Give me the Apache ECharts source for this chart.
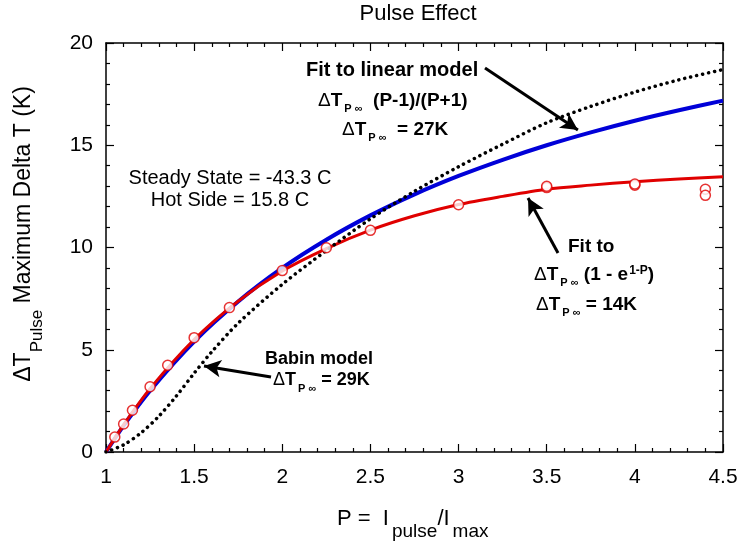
<!DOCTYPE html>
<html>
<head>
<meta charset="utf-8">
<script src="https://cdn.jsdelivr.net/npm/echarts@6/dist/echarts.min.js"></script>
<style>
  html, body { margin: 0; padding: 0; background: #fff; }
  #main { width: 742px; height: 542px; }
</style>
</head>
<body>
<div id="main"></div>
<script>
// measured points (red circles)
var measP = [1.05, 1.1, 1.15, 1.25, 1.35, 1.5, 1.7, 2.0, 2.25, 2.5, 3.0, 3.5, 3.5, 4.0, 4.0, 4.4, 4.4];
var measT = [0.73, 1.37, 2.04, 3.19, 4.24, 5.59, 7.06, 8.87, 9.99, 10.84, 12.09, 12.93, 12.99, 13.05, 13.1, 12.85, 12.55];

// fitted curves
var fitP = [1, 1.1, 1.25, 1.5, 1.75, 2, 2.25, 2.5, 2.75, 3, 3.25, 3.5, 3.75, 4, 4.25, 4.5];
var linearT = [0, 1.29, 3.0, 5.4, 7.36, 9.0, 10.38, 11.57, 12.6, 13.5, 14.29, 15.0, 15.63, 16.2, 16.71, 17.18];
var expT = [0, 1.33, 3.1, 5.5, 7.38, 8.85, 9.95, 10.85, 11.55, 12.1, 12.5, 12.85, 13.05, 13.22, 13.35, 13.46];

var babinP = [1, 1.1, 1.2, 1.3, 1.4, 1.5, 1.6, 1.75, 2, 2.25, 2.5, 2.75, 3, 3.25, 3.5, 3.75, 4, 4.25, 4.5];
var babinT = [0, 0.35, 0.95, 1.75, 2.75, 3.85, 4.9, 6.3, 8.2, 9.85, 11.4, 12.75, 13.95, 15.05, 16.1, 16.9, 17.6, 18.2, 18.7];

// annotation arrows [from, to] in data units
var arrows = [
  [[3.15, 18.78], [3.677, 15.75]],
  [[3.564, 9.73], [3.394, 12.42]],
  [[1.936, 3.67], [1.556, 4.21]]
];

function pairs(xs, ys) {
  return xs.map(function (x, i) { return [x, ys[i]]; });
}

var font = 'Liberation Sans, Arial, sans-serif';

function makeRich(size) {
  return {
    d: { fontSize: size, fontFamily: font, color: '#000', verticalAlign: 'top' },
    b: { fontSize: size, fontWeight: 'bold', fontFamily: font, color: '#000', verticalAlign: 'top' },
    s: { fontSize: 11, fontWeight: 'bold', fontFamily: font, color: '#000', verticalAlign: 'top', padding: [12, 0, 0, 2] },
    p: { fontSize: 12, fontWeight: 'bold', fontFamily: font, color: '#000', verticalAlign: 'top', padding: [0, 0, 0, 1] }
  };
}
var rich20 = makeRich(20);
var rich19 = makeRich(19);
var rich18 = makeRich(18);

function label(x, y, text, r) {
  return {
    type: 'text', left: x, top: y,
    style: { text: text, rich: r || rich19, fontFamily: font }
  };
}

var chart = echarts.init(document.getElementById('main'), null, { renderer: 'canvas' });

var axisBase = {
  type: 'value',
  axisLine: { show: true, onZero: false, lineStyle: { color: '#000', width: 1.5 } },
  axisTick: { show: true, inside: true, length: 8, lineStyle: { color: '#000', width: 1.2 } },
  minorTick: { show: true, splitNumber: 5, length: 4, lineStyle: { color: '#000', width: 1.2 } },
  splitLine: { show: false },
  axisLabel: { color: '#000', fontSize: 21, fontFamily: font }
};

var option = {
  animation: false,
  backgroundColor: '#fff',
  title: {
    text: 'Pulse Effect', left: 418, top: 3, padding: 0, textAlign: 'center',
    textStyle: { fontSize: 22, fontWeight: 'normal', fontFamily: font, color: '#000' }
  },
  grid: { left: 106, right: 19, top: 43, bottom: 90 },
  xAxis: [
    Object.assign({}, axisBase, { min: 1, max: 4.5, interval: 0.5, position: 'bottom',
      axisLabel: Object.assign({}, axisBase.axisLabel, { margin: 15 }) }),
    Object.assign({}, axisBase, { min: 1, max: 4.5, interval: 0.5, position: 'top',
      axisLabel: { show: false } })
  ],
  yAxis: [
    Object.assign({}, axisBase, { min: 0, max: 20, interval: 5, position: 'left',
      axisLabel: Object.assign({}, axisBase.axisLabel, { margin: 13 }) }),
    Object.assign({}, axisBase, { min: 0, max: 20, interval: 5, position: 'right',
      axisLabel: { show: false } })
  ],
  series: [
    {
      name: 'linear', type: 'line', smooth: 0.3, showSymbol: false, z: 2,
      data: pairs(fitP, linearT),
      lineStyle: { color: '#0000d8', width: 4 }
    },
    {
      name: 'exp', type: 'line', smooth: 0.3, showSymbol: false, z: 3,
      data: pairs(fitP, expT),
      lineStyle: { color: '#e00000', width: 3 }
    },
    {
      name: 'babin', type: 'line', smooth: 0.3, showSymbol: false, z: 4,
      data: pairs(babinP, babinT),
      lineStyle: { color: '#000', width: 3.5, type: [0.1, 6], cap: 'round' }
    },
    {
      name: 'measured', type: 'scatter', z: 5,
      data: pairs(measP, measT),
      symbol: 'circle', symbolSize: 10,
      itemStyle: { color: '#fff', borderColor: '#e00000', borderWidth: 1.5 },
      markLine: {
        silent: true, animation: false,
        symbol: ['none', 'arrow'], symbolSize: [13, 17],
        label: { show: false },
        lineStyle: { color: '#000', width: 3, type: 'solid' },
        data: arrows.map(function (a) { return [{ coord: a[0] }, { coord: a[1] }]; })
      }
    }
  ],
  graphic: [
    label(306, 60, '{b|Fit to linear model}', rich20),
    label(318, 91, '{d|Δ}{b|T}{s|P ∞}{b|  (P-1)/(P+1)}'),
    label(342, 120, '{d|Δ}{b|T}{s|P ∞}{b|  = 27K}'),
    {
      type: 'text', x: 230, y: 189,
      style: { text: 'Steady State = -43.3 C\nHot Side = 15.8 C', fontSize: 20, lineHeight: 22,
        fontFamily: font, fill: '#000', align: 'center', verticalAlign: 'middle' }
    },
    label(568, 237, '{b|Fit to}'),
    label(534, 265, '{d|Δ}{b|T}{s|P ∞}{b| (1 - e}{p|1-P}{b|)}'),
    label(536, 295, '{d|Δ}{b|T}{s|P ∞}{b| = 14K}'),
    label(265, 350, '{b|Babin model}', rich18),
    label(273, 371, '{d|Δ}{b|T}{s|P ∞}{b| = 29K}', rich18),
    {
      type: 'text', left: 337, top: 508,
      style: {
        text: '{n|P =  I}{u|pulse}{n|/I}{u|max}',
        rich: {
          n: { fontSize: 22, fontFamily: font, color: '#000', verticalAlign: 'top' },
          u: { fontSize: 19, fontFamily: font, color: '#000', verticalAlign: 'top', padding: [14, 0, 0, 3] }
        }
      }
    },
    {
      type: 'text', x: 29, y: 234, rotation: Math.PI / 2,
      style: {
        text: '{n|ΔT}{u|Pulse}{n| Maximum Delta T (K)}',
        align: 'center', verticalAlign: 'middle',
        rich: {
          n: { fontSize: 23, fontFamily: font, color: '#000', verticalAlign: 'top' },
          u: { fontSize: 17, fontFamily: font, color: '#000', verticalAlign: 'top', padding: [16, 0, 0, 0] }
        }
      }
    }
  ]
};

chart.setOption(option);
</script>
</body>
</html>
